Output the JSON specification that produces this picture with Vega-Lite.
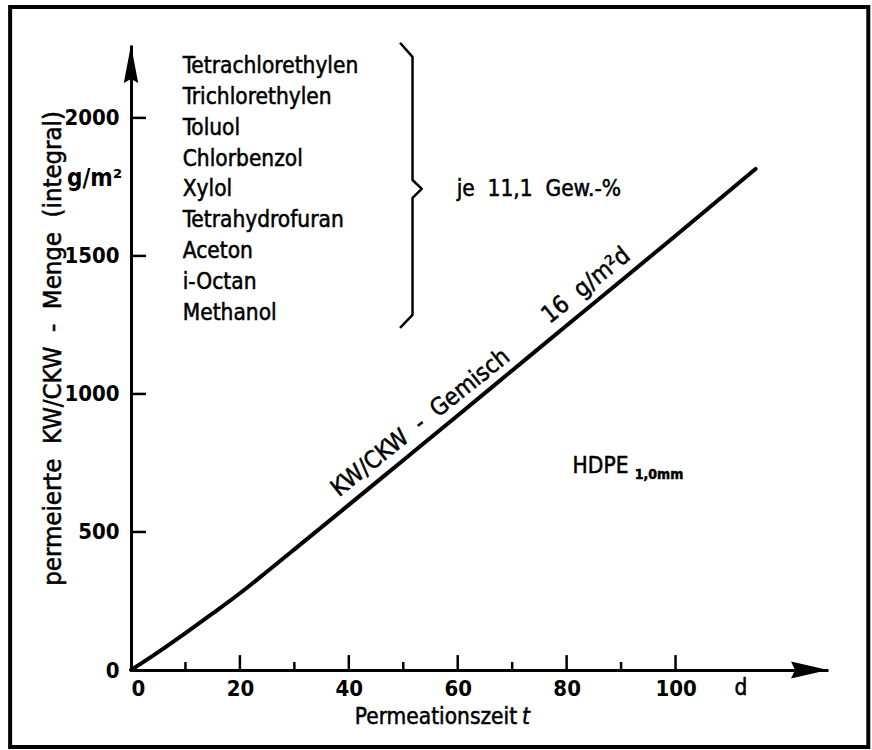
{
  "$schema": "https://vega.github.io/schema/vega-lite/v6.json",
  "width": 697,
  "height": 625,
  "autosize": {"type": "none"},
  "padding": {"left": 131, "top": 45, "right": 44, "bottom": 80},
  "background": "white",
  "config": {
    "view": {"stroke": null},
    "font": "DejaVu Sans Condensed, Liberation Sans Narrow, sans-serif",
    "text": {"font": "DejaVu Sans Condensed, Liberation Sans Narrow, sans-serif", "color": "black", "stroke": "black", "strokeWidth": 0.5},
    "axis": {"labelFont": "Liberation Sans Narrow, DejaVu Sans Condensed, sans-serif"}
  },
  "encoding": {
    "x": {"field": "x", "type": "quantitative",
      "scale": {"domain": [0, 128], "nice": false, "zero": false},
      "axis": {"title": null, "values": [0, 20, 40, 60, 80, 100], "format": "d", "ticks": false, "grid": false,
        "domainColor": "black", "domainWidth": 3, "labelFontSize": 22, "labelColor": "black",
        "labelPadding": 8, "labelFontWeight": "bold"}},
    "y": {"field": "y", "type": "quantitative",
      "scale": {"domain": [0, 2264], "nice": false, "zero": false},
      "axis": {"title": null, "values": [0, 500, 1000, 1500, 2000], "format": "d", "ticks": false, "grid": false,
        "domainColor": "black", "domainWidth": 3, "labelFontSize": 22, "labelColor": "black",
        "labelPadding": 12, "labelFontWeight": "bold"}}
  },
  "layer": [
    {
      "data": {"values": [{"x": -22.2, "x2": 135.4, "y": -279, "y2": 2402}]},
      "mark": {"type": "rect", "filled": false, "stroke": "black", "strokeWidth": 4, "clip": false},
      "encoding": {
        "x2": {"field": "x2"},
        "y2": {"field": "y2"}
      }
    },
    {
      "data": {"values": [
        {"x": 0, "y": 0}, {"x": 5, "y": 65}, {"x": 10, "y": 134}, {"x": 15, "y": 205},
        {"x": 20, "y": 278}, {"x": 25, "y": 357}, {"x": 30, "y": 437}, {"x": 40, "y": 598},
        {"x": 50, "y": 760}, {"x": 60, "y": 922}, {"x": 70, "y": 1085}, {"x": 80, "y": 1248},
        {"x": 90, "y": 1410}, {"x": 100, "y": 1573}, {"x": 114.7, "y": 1815}
      ]},
      "mark": {"type": "line", "color": "black", "strokeWidth": 4, "strokeCap": "round", "interpolate": "monotone"}
    },
    {
      "data": {"values": [
        {"x": 10, "y": 0, "y2": 29}, {"x": 20, "y": 0, "y2": 54}, {"x": 30, "y": 0, "y2": 29},
        {"x": 40, "y": 0, "y2": 54}, {"x": 50, "y": 0, "y2": 29}, {"x": 60, "y": 0, "y2": 54},
        {"x": 70, "y": 0, "y2": 29}, {"x": 80, "y": 0, "y2": 54}, {"x": 90, "y": 0, "y2": 29},
        {"x": 100, "y": 0, "y2": 54}
      ]},
      "mark": {"type": "rule", "color": "black", "strokeWidth": 2.5},
      "encoding": {
        "y2": {"field": "y2"}
      }
    },
    {
      "data": {"values": [
        {"y": 500, "x": 0, "x2": 2.75}, {"y": 1000, "x": 0, "x2": 2.75},
        {"y": 1500, "x": 0, "x2": 2.75}, {"y": 2000, "x": 0, "x2": 2.75}
      ]},
      "mark": {"type": "rule", "color": "black", "strokeWidth": 2.5},
      "encoding": {
        "x2": {"field": "x2"}
      }
    },
    {
      "data": {"values": [{"x": 0, "y": 2264}]},
      "mark": {"type": "point", "filled": true, "color": "black", "opacity": 1, "size": 1600, "clip": false,
        "shape": "M0,0L0.36,1.9L0,1.7L-0.36,1.9Z"}
    },
    {
      "data": {"values": [{"x": 128, "y": 0}]},
      "mark": {"type": "point", "filled": true, "color": "black", "opacity": 1, "size": 1600, "clip": false,
        "shape": "M0,0L-1.85,-0.42L-1.65,0L-1.85,0.42Z"}
    },
    {
      "data": {"values": [
        {"x": 49.4, "y": 2272, "o": 1}, {"x": 51.7, "y": 2221, "o": 2}, {"x": 51.7, "y": 1775, "o": 3},
        {"x": 53.4, "y": 1743, "o": 4}, {"x": 51.7, "y": 1710, "o": 5}, {"x": 51.7, "y": 1286, "o": 6},
        {"x": 49.4, "y": 1239, "o": 7}
      ]},
      "mark": {"type": "line", "color": "black", "strokeWidth": 2.5, "strokeJoin": "round"},
      "encoding": {
        "order": {"field": "o"}
      }
    },
    {
      "data": {"values": [
        {"x": 9.5, "y": 2188, "t": "Tetrachlorethylen"},
        {"x": 9.5, "y": 2076, "t": "Trichlorethylen"},
        {"x": 9.5, "y": 1964, "t": "Toluol"},
        {"x": 9.5, "y": 1851, "t": "Chlorbenzol"},
        {"x": 9.5, "y": 1743, "t": "Xylol"},
        {"x": 9.5, "y": 1630, "t": "Tetrahydrofuran"},
        {"x": 9.5, "y": 1518, "t": "Aceton"},
        {"x": 9.5, "y": 1406, "t": "i-Octan"},
        {"x": 9.5, "y": 1293, "t": "Methanol"},
        {"x": 59.8, "y": 1743, "t": "je\u00a0\u00a011,1\u00a0\u00a0Gew.-%"},
        {"x": 81.1, "y": 739, "t": "HDPE"}
      ]},
      "mark": {"type": "text", "align": "left", "baseline": "middle", "fontSize": 22.5, "clip": false},
      "encoding": {
        "text": {"field": "t"}
      }
    },
    {
      "data": {"values": [{"x": 92.5, "y": 706, "t": "1,0mm"}]},
      "mark": {"type": "text", "align": "left", "baseline": "middle", "fontSize": 14, "fontWeight": "bold", "clip": false},
      "encoding": {
        "text": {"field": "t"}
      }
    },
    {
      "data": {"values": [
        {"x": 53.2, "y": 895, "t": "KW/CKW\u00a0\u00a0-\u00a0\u00a0Gemisch"},
        {"x": 83.6, "y": 1392, "t": "16\u00a0\u00a0g/m²d"}
      ]},
      "mark": {"type": "text", "align": "center", "baseline": "middle", "fontSize": 24, "angle": 321.3, "clip": false},
      "encoding": {
        "text": {"field": "t"}
      }
    },
    {
      "data": {"values": [
        {"x": -1.6, "y": 1780, "t": "g/m²"}
      ]},
      "mark": {"type": "text", "align": "right", "baseline": "middle", "fontSize": 24, "fontWeight": "bold",
        "font": "Liberation Sans Narrow, DejaVu Sans Condensed, sans-serif", "strokeWidth": 0, "clip": false},
      "encoding": {
        "text": {"field": "t"}
      }
    },
    {
      "data": {"values": [
        {"x": 112, "y": -65, "t": "d"},
        {"x": 56, "y": -170, "t": "Permeationszeit"}
      ]},
      "mark": {"type": "text", "align": "center", "baseline": "middle", "fontSize": 22.5, "clip": false},
      "encoding": {
        "text": {"field": "t"}
      }
    },
    {
      "data": {"values": [{"x": 71.8, "y": -170, "t": "t"}]},
      "mark": {"type": "text", "align": "left", "baseline": "middle", "fontSize": 22.5, "fontStyle": "italic", "clip": false},
      "encoding": {
        "text": {"field": "t"}
      }
    },
    {
      "data": {"values": [{"x": -14.3, "y": 1165, "t": "permeierte\u00a0\u00a0KW/CKW\u00a0\u00a0-\u00a0\u00a0Menge\u00a0\u00a0(integral)"}]},
      "mark": {"type": "text", "align": "center", "baseline": "middle", "fontSize": 25.5, "angle": 270, "clip": false},
      "encoding": {
        "text": {"field": "t"}
      }
    }
  ]
}
